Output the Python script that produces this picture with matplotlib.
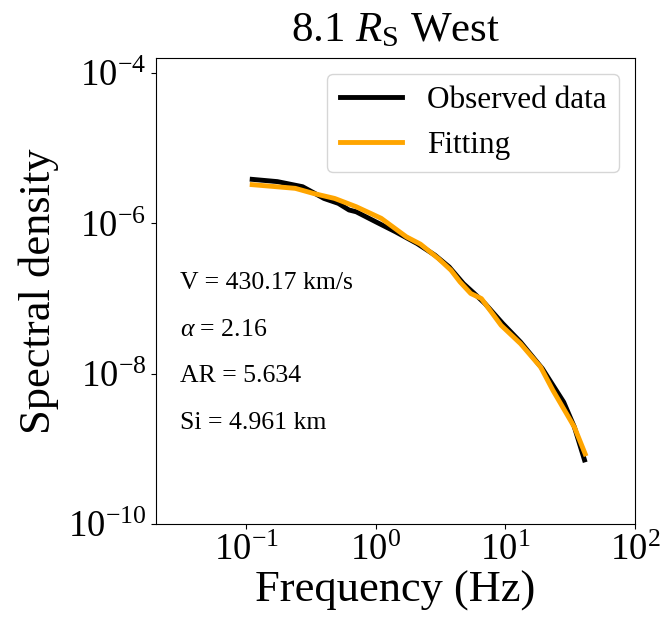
import matplotlib
matplotlib.use('Agg')
import matplotlib.pyplot as plt
import numpy as np

plt.rcParams['font.family'] = ['Liberation Serif', 'DejaVu Serif']
plt.rcParams['mathtext.fontset'] = 'custom'
plt.rcParams['mathtext.rm'] = 'Liberation Serif'
plt.rcParams['mathtext.it'] = 'Liberation Serif:italic'

# observed spectrum
obs_f = [0.111, 0.174, 0.272, 0.398, 0.513, 0.621, 0.705, 1.0, 1.42, 2.08, 2.86,
         3.68, 4.75, 5.75, 6.96, 9.56, 13.1, 19.3, 28.2, 34.1, 40.8]
obs_p = [3.86e-6, 3.6e-6, 3.08e-6, 2.15e-6, 1.85e-6, 1.51e-6, 1.43e-6, 1.05e-6,
         7.74e-7, 5.41e-7, 3.78e-7, 2.64e-7, 1.58e-7, 1.17e-7, 8.58e-8, 4.64e-8,
         2.64e-8, 1.17e-8, 4.19e-9, 1.95e-9, 7.13e-10]

# fitted spectrum
fit_f = [0.111, 0.239, 0.329, 0.481, 0.705, 1.1, 1.72, 2.21, 3.04, 3.8, 4.46,
         5.4, 6.53, 9.27, 13.1, 18.7, 23.3, 34.1, 41.3]
fit_p = [3.28e-6, 2.93e-6, 2.51e-6, 2.15e-6, 1.67e-6, 1.17e-6, 6.64e-7, 5.3e-7,
         3.41e-7, 2.39e-7, 1.67e-7, 1.17e-7, 1.0e-7, 4.41e-8, 2.51e-8, 1.23e-8,
         6.0e-9, 1.95e-9, 8.58e-10]

params = ['V = 430.17 km/s', r'$\alpha$ = 2.16', 'AR = 5.634', 'Si = 4.961 km']

fig = plt.figure(figsize=(6.6, 6.18), dpi=100)
ax = fig.add_axes([0.236, 0.152, 0.726, 0.754])

ax.loglog(obs_f, obs_p, color='black', lw=3.5, label='Observed data')
ax.loglog(fit_f, fit_p, color='orange', lw=3.5, label='Fitting')

ax.set_xlim(0.02, 100)
ax.set_ylim(1e-10, 10**-3.8)
ax.set_xticks([1e-1, 1e0, 1e1, 1e2])
ax.set_yticks([1e-10, 1e-8, 1e-6, 1e-4])
ax.minorticks_off()
ax.tick_params(labelsize=26.5)

for i, t in enumerate(params):
    ax.text(0.05, 0.517 - 0.1 * i, t, transform=ax.transAxes, fontsize=18.5,
            va='center', ha='left')

ax.set_title(r'8.1 $R_{\mathrm{S}}$ West', fontsize=31, pad=12)
ax.set_xlabel('Frequency (Hz)', fontsize=32, labelpad=2)
ax.set_ylabel('Spectral density', fontsize=32, labelpad=6)
ax.legend(loc='upper right', fontsize=22.5, handlelength=2)

fig.savefig('out.png', dpi=100)
